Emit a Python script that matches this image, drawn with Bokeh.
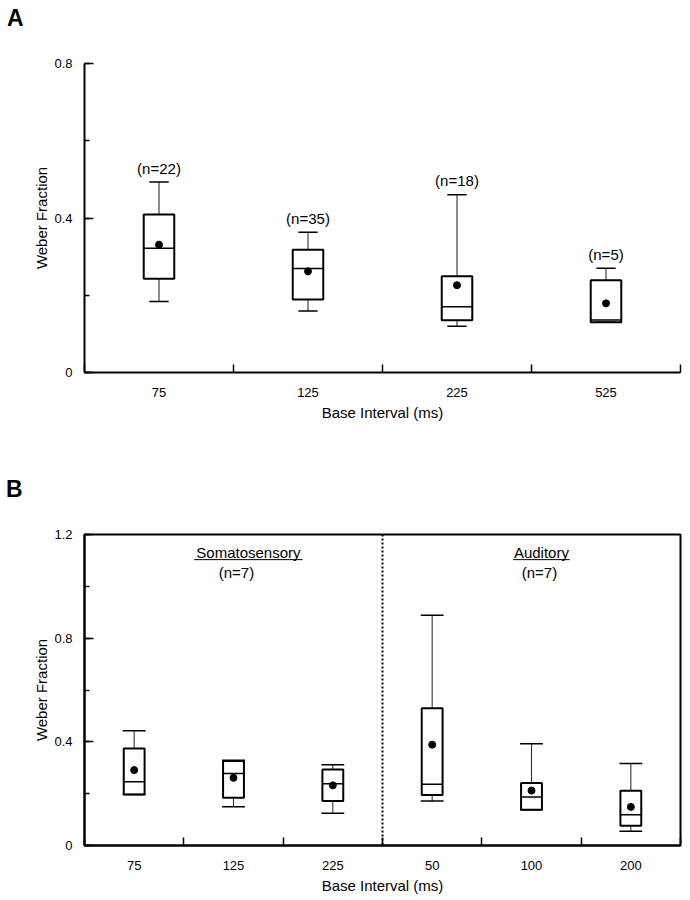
import numpy as np
from bokeh.plotting import figure
from bokeh.models import FixedTicker, Span, Range1d, Div
from bokeh.layouts import column
from bokeh.embed import file_html
from bokeh.resources import INLINE
from bokeh.core.properties import value

FONT = "Liberation Sans"

# ---------------- Panel A data ----------------
cats_a = ["75", "125", "225", "525"]
n_a = [22, 35, 18, 5]
wlo_a = [0.184, 0.159, 0.120, 0.130]
q1_a = [0.243, 0.189, 0.135, 0.130]
med_a = [0.322, 0.269, 0.170, 0.136]
q3_a = [0.409, 0.318, 0.249, 0.239]
whi_a = [0.493, 0.363, 0.460, 0.270]
mean_a = [0.331, 0.262, 0.226, 0.179]
yticks_a = [0, 0.4, 0.8]
yminor_a = [0, 0.2, 0.4, 0.6, 0.8]

# ---------------- Panel B data ----------------
cats_b = ["75", "125", "225", "50", "100", "200"]
wlo_b = [0.197, 0.150, 0.124, 0.172, 0.138, 0.055]
q1_b = [0.197, 0.184, 0.172, 0.195, 0.138, 0.076]
med_b = [0.246, 0.278, 0.238, 0.236, 0.187, 0.119]
q3_b = [0.374, 0.326, 0.293, 0.530, 0.241, 0.211]
whi_b = [0.443, 0.329, 0.312, 0.888, 0.393, 0.316]
mean_b = [0.291, 0.261, 0.232, 0.389, 0.212, 0.149]
groups_b = ["Somatosensory", "Auditory"]
group_n_b = [7, 7]
group_size_b = [3, 3]
yticks_b = [0, 0.4, 0.8, 1.2]
yminor_b = [0, 0.2, 0.4, 0.6, 0.8, 1.0, 1.2]

W = 690


def fmt(v):
    return "0" if v == 0 else f"{v:g}"


def panel_label(text, height, pad_top, pad_left):
    html = (f'<div style="font-family:\'{FONT}\';font-weight:bold;font-size:23px;'
            f'line-height:23px;color:black;padding-top:{pad_top}px;'
            f'padding-left:{pad_left}px;margin:0">{text}</div>')
    return Div(text=html, width=W, height=height, margin=0)


def make_panel(cats, wlo, q1, med, q3, whi, mean, yticks, yminor, height,
               top, bottom, box_w, cap_w, outline):
    n = len(cats)
    xs = np.arange(n) + 0.5
    ymax = yticks[-1]
    p = figure(width=W, height=height, x_range=Range1d(0, n),
               y_range=Range1d(0, ymax), output_backend="svg",
               toolbar_location=None, min_border_left=84, min_border_right=10,
               min_border_top=top, min_border_bottom=bottom)
    p.xgrid.visible = False
    p.ygrid.visible = False
    p.background_fill_color = "white"
    p.border_fill_color = "white"
    if outline:
        p.outline_line_color = "black"
        p.outline_line_width = 2
    else:
        p.outline_line_color = None

    # whiskers
    p.segment(xs, q3, xs, whi, line_color="#333333", line_width=1.1)
    p.segment(xs, q1, xs, wlo, line_color="#333333", line_width=1.1)
    # caps
    p.segment(xs - cap_w / 2, whi, xs + cap_w / 2, whi, line_color="black", line_width=1.5)
    p.segment(xs - cap_w / 2, wlo, xs + cap_w / 2, wlo, line_color="black", line_width=1.5)
    # boxes
    p.quad(left=xs - box_w / 2, right=xs + box_w / 2, bottom=q1, top=q3,
           fill_color=None, line_color="black", line_width=2)
    # medians
    p.segment(xs - box_w / 2, med, xs + box_w / 2, med, line_color="black", line_width=1.5)
    # means
    p.scatter(xs, mean, size=7, color="black", marker="circle")

    ax = p.xaxis[0]
    ax.ticker = FixedTicker(ticks=list(xs), minor_ticks=list(range(n + 1)))
    ax.major_label_overrides = {float(x): c for x, c in zip(xs, cats)}
    ax.major_tick_in = 0
    ax.major_tick_out = 0
    ax.minor_tick_in = 8
    ax.minor_tick_out = 0
    ax.minor_tick_line_width = 1.5
    ax.minor_tick_line_color = "black"
    ax.axis_line_width = 2
    ax.axis_line_color = "black"
    ax.major_label_text_font = FONT
    ax.major_label_text_font_size = "13px"
    ax.major_label_text_color = "black"
    ax.major_label_standoff = 15
    ax.axis_label = "Base Interval (ms)"
    ax.axis_label_text_font = FONT
    ax.axis_label_text_font_size = "15px"
    ax.axis_label_text_font_style = "normal"
    ax.axis_label_text_color = "black"
    ax.axis_label_standoff = 4

    ay = p.yaxis[0]
    ay.ticker = FixedTicker(ticks=yticks, minor_ticks=yminor)
    ay.major_label_overrides = {float(v): fmt(v) for v in yticks}
    ay.major_tick_in = 9
    ay.major_tick_out = 0
    ay.minor_tick_in = 5
    ay.minor_tick_out = 0
    ay.major_tick_line_width = 1.5
    ay.minor_tick_line_width = 1.5
    ay.axis_line_width = 2
    ay.axis_line_color = "black"
    ay.major_label_text_font = FONT
    ay.major_label_text_font_size = "13px"
    ay.major_label_text_color = "black"
    ay.major_label_standoff = 12
    ay.axis_label = "Weber Fraction"
    ay.axis_label_text_font = FONT
    ay.axis_label_text_font_size = "15px"
    ay.axis_label_text_font_style = "normal"
    ay.axis_label_text_color = "black"
    ay.axis_label_standoff = 1
    return p, xs


# page (no body margin): label A 0..40, fig A 40..440 (frame 63..372)
labA = panel_label("A", 40, 7, 7)
pA, xsA = make_panel(cats_a, wlo_a, q1_a, med_a, q3_a, whi_a, mean_a,
                     yticks_a, yminor_a, height=400, top=23, bottom=68,
                     box_w=0.205, cap_w=0.13, outline=False)
pA.text(xsA, whi_a, text=[f"(n={k})" for k in n_a], y_offset=-14,
        text_align="center", text_baseline="middle",
        text_font=value(FONT), text_font_size="15px", text_color="black")

# label B 440..500, fig B 500..898 (frame 534..845)
labB = panel_label("B", 60, 38, 6)
pB, xsB = make_panel(cats_b, wlo_b, q1_b, med_b, q3_b, whi_b, mean_b,
                     yticks_b, yminor_b, height=398, top=34, bottom=53,
                     box_w=0.21, cap_w=0.23, outline=True)

starts = np.cumsum([0] + group_size_b[:-1])
centers = starts + np.array(group_size_b) / 2.0
pB.add_layout(Span(location=float(starts[1]), dimension="height",
                   line_color="black", line_width=2, line_dash="2 2"))

head_y = 1.131
under_y = 1.103
n_y = 1.054
head_dx = [0.15, 0.10]
n_dx = [0.03, 0.08]
head_w = [1.09, 0.57]
hx = centers + np.array(head_dx)
pB.text(hx, [head_y] * 2, text=groups_b,
        text_align="center", text_baseline="middle",
        text_font=value(FONT), text_font_size="15px", text_color="black")
pB.segment(hx - np.array(head_w) / 2, [under_y] * 2, hx + np.array(head_w) / 2,
           [under_y] * 2, line_color="black", line_width=1)
pB.text(centers + np.array(n_dx), [n_y] * 2, text=[f"(n={k})" for k in group_n_b],
        text_align="center", text_baseline="middle",
        text_font=value(FONT), text_font_size="15px", text_color="black")

layout = column(labA, pA, labB, pB, spacing=0)
open("out.html", "w").write(file_html(layout, INLINE))
